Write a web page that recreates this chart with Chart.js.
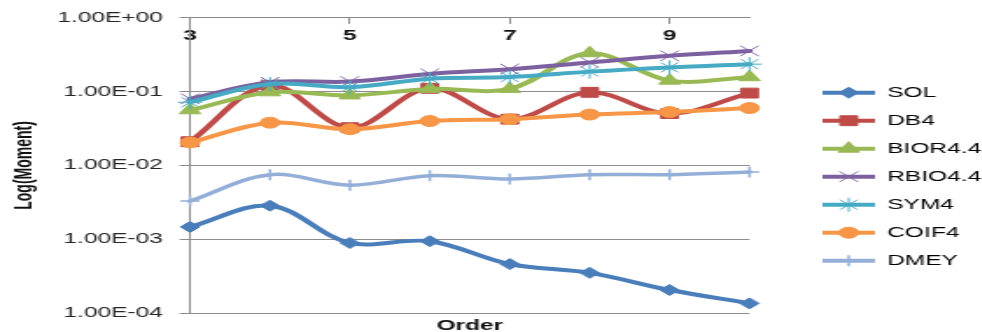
<!DOCTYPE html>
<html>
<head>
<meta charset="utf-8">
<title>Log(Moment) by Order</title>
<script src="https://cdn.jsdelivr.net/npm/chart.js@4/dist/chart.umd.min.js"></script>
<style>
  html, body { margin: 0; padding: 0; background: #ffffff; }
  #wrap { width: 982px; height: 332px; overflow: hidden; }
  /* the drawing surface is laid out narrow and widened 1.75x on screen */
  #chart { display: block; transform: scaleX(1.75); transform-origin: 0 0; }
</style>
</head>
<body>
<div id="wrap"><canvas id="chart" width="561" height="332"></canvas></div>
<script>
// Wavelet order on the horizontal axis
const orders = ['3', '4', '5', '6', '7', '8', '9', '10'];
const xTickLabels = ['3', '', '5', '', '7', '', '9', ''];

// Decade ticks of the logarithmic moment axis
const yTickValues = [1e-4, 1e-3, 1e-2, 1e-1, 1];
const yTickLabels = ['1.00E-04', '1.00E-03', '1.00E-02', '1.00E-01', '1.00E+00'];

// Moment per wavelet family
const sol    = [1.47e-3, 2.85e-3, 8.9e-4, 9.4e-4, 4.6e-4, 3.5e-4, 2.05e-4, 1.35e-4];
const db4    = [0.021, 0.122, 0.0325, 0.111, 0.0424, 0.098, 0.0505, 0.0957];
const bior44 = [0.056, 0.098, 0.089, 0.109, 0.109, 0.332, 0.141, 0.157];
const rbio44 = [0.080, 0.134, 0.137, 0.174, 0.202, 0.249, 0.306, 0.357];
const sym4   = [0.072, 0.127, 0.115, 0.150, 0.158, 0.187, 0.213, 0.236];
const coif4  = [0.0205, 0.038, 0.031, 0.040, 0.0424, 0.049, 0.053, 0.060];
const dmey   = [3.29e-3, 7.5e-3, 5.4e-3, 7.27e-3, 6.56e-3, 7.5e-3, 7.5e-3, 8.13e-3];

const FONT = "'Liberation Sans', Arial, sans-serif";

function series(label, data, color, style, radius, pointFill, pointBorderWidth, lineWidth, order) {
  return {
    label, data,
    borderColor: color,
    backgroundColor: color,
    borderWidth: lineWidth,
    borderCapStyle: 'round',
    borderJoinStyle: 'round',
    tension: 0.35,
    pointStyle: style,
    pointRadius: radius,
    pointHoverRadius: radius,
    pointBackgroundColor: pointFill,
    pointBorderColor: color,
    pointBorderWidth: pointBorderWidth,
    fill: false,
    xAxisID: 'x',
    yAxisID: 'y',
    order: order
  };
}

const datasets = [
  series('SOL',     sol,    '#4a7ebb', 'rectRot',  5.5, '#4a7ebb', 1,   4,   0),
  series('DB4',     db4,    '#be4b48', 'rect',     7,   '#be4b48', 1,   4,   -1),
  series('BIOR4.4', bior44, '#98b954', 'triangle', 7,   '#98b954', 1,   4,   -2),
  series('RBIO4.4', rbio44, '#7d60a0', 'crossRot', 7.5, '#7d60a0', 1,   4,   -3),
  series('SYM4',    sym4,   '#46aac5', 'star',     7,   '#46aac5', 1,   4,   -4),
  series('COIF4',   coif4,  '#f79646', 'circle',   5.5, '#f79646', 1,   4,   -5),
  series('DMEY',    dmey,   '#93afd8', 'cross',    5.5, '#93afd8', 1.5, 3.5, -6)
];

// Places the legend column beside the plot
const legendPlacement = {
  id: 'legendPlacement',
  afterLayout(chart) {
    const lg = chart.legend;
    if (!lg) return;
    const w = lg.width, h = lg.height;
    lg.left = 456; lg.right = 456 + w;
    lg.top = 71.7; lg.bottom = 71.7 + h;
  }
};

// Adds each series' marker on top of its legend line sample
const legendMarkers = {
  id: 'legendMarkers',
  afterDraw(chart) {
    const lg = chart.legend;
    if (!lg || !lg.legendHitBoxes) return;
    const ctx = chart.ctx;
    const bw = lg.options.labels.boxWidth;
    lg.legendHitBoxes.forEach((hb, i) => {
      const ds = chart.data.datasets[i];
      ctx.save();
      ctx.fillStyle = ds.pointBackgroundColor;
      ctx.strokeStyle = ds.pointBorderColor;
      ctx.lineWidth = ds.pointBorderWidth;
      Chart.helpers.drawPoint(ctx, {
        pointStyle: ds.pointStyle,
        radius: ds.pointRadius,
        rotation: 0,
        borderWidth: ds.pointBorderWidth
      }, hb.left + bw / 2, hb.top + hb.height / 2);
      ctx.restore();
    });
  }
};

new Chart(document.getElementById('chart'), {
  type: 'line',
  data: { labels: orders, datasets },
  options: {
    responsive: false,
    animation: false,
    devicePixelRatio: 1,
    events: [],
    layout: { padding: { left: 0, top: 0, right: 18, bottom: 0 } },
    plugins: {
      tooltip: { enabled: false },
      legend: {
        position: 'right',
        align: 'start',
        labels: {
          boxWidth: 30,
          boxHeight: 4,
          padding: 14,
          color: '#1a1a1a',
          font: { family: FONT, size: 14 },
          generateLabels: chart => chart.data.datasets.map((ds, i) => ({
            text: ds.label,
            fillStyle: ds.borderColor,
            strokeStyle: ds.borderColor,
            lineWidth: 0,
            hidden: false,
            datasetIndex: i
          }))
        }
      }
    },
    scales: {
      x: {
        type: 'category',
        position: 'top',
        offset: false,
        grid: {
          display: true,
          drawOnChartArea: false,
          drawTicks: true,
          tickLength: -6,
          lineWidth: 1,
          color: c => (c.index > 0 && c.index % 2 === 0) ? '#8a8a8a' : 'rgba(0,0,0,0)'
        },
        border: { display: true, color: '#8a8a8a', width: 1 },
        ticks: {
          mirror: true,
          padding: 10,
          autoSkip: false,
          maxRotation: 0,
          minRotation: 0,
          color: '#111111',
          font: { family: FONT, size: 14, weight: 'bold' },
          callback: (v, i) => xTickLabels[i]
        },
        afterFit: s => { s.height = 15; }
      },
      xb: {
        type: 'category',
        position: 'bottom',
        grid: { display: false },
        border: { display: false },
        ticks: { display: false },
        title: {
          display: true,
          text: 'Order',
          color: '#111111',
          font: { family: FONT, size: 14, weight: 'bold', lineHeight: 0.85 },
          padding: 0
        },
        afterFit: s => { s.height = 19; }
      },
      y: {
        type: 'logarithmic',
        position: 'left',
        min: 1e-4,
        max: 1,
        afterBuildTicks: s => { s.ticks = yTickValues.map(v => ({ value: v })); },
        grid: { color: '#8c8c8c', lineWidth: 1, tickLength: 6 },
        border: { display: true, color: '#8c8c8c', width: 1 },
        ticks: {
          autoSkip: false,
          padding: 9.5,
          color: '#262626',
          font: { family: FONT, size: 14 },
          callback: (v, i) => yTickLabels[i]
        },
        title: {
          display: true,
          text: 'Log(Moment)',
          color: '#111111',
          font: { family: FONT, size: 14, weight: 'bold' },
          padding: { top: 6, bottom: 0 }
        },
        afterFit: s => { s.width = 108.6; }
      }
    }
  },
  plugins: [legendPlacement, legendMarkers]
});
</script>
</body>
</html>
